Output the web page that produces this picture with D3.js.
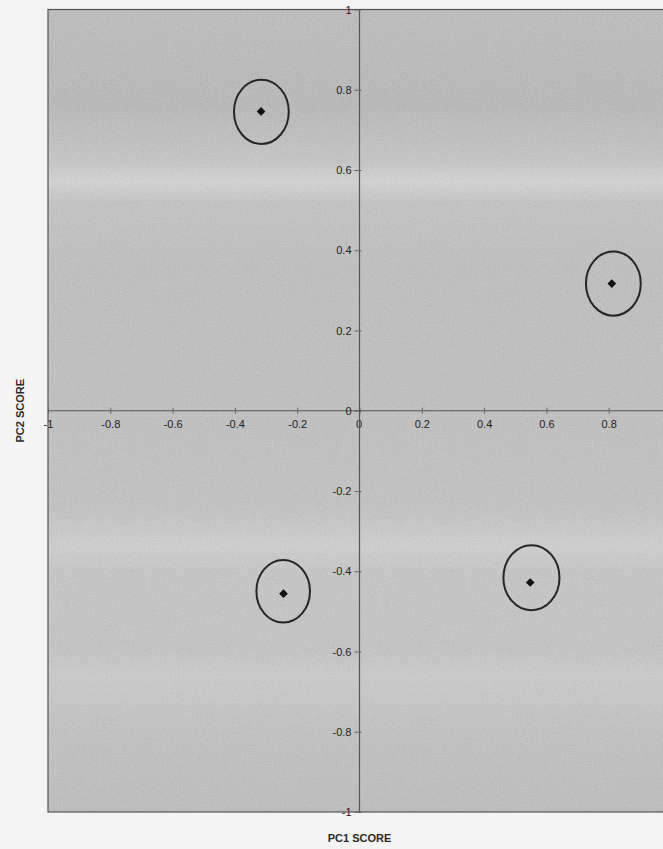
<!DOCTYPE html>
<html>
<head>
<meta charset="utf-8">
<script src="https://cdn.jsdelivr.net/npm/d3@7"></script>
<style>
  html, body { margin: 0; padding: 0; background: #f4f4f4; }
  svg { display: block; }
  text { font-family: "Liberation Sans", Arial, sans-serif; }
</style>
</head>
<body>
<div id="chart"></div>
<script>
(function() {
	var width = 663,
		height = 849;

	// PC scores
	var pc1 = [-0.316, 0.810, -0.244, 0.548];
	var pc2 = [0.746, 0.317, -0.456, -0.428];
	// centre of each drawn ellipse (a few are slightly off the point)
	var ellX = [-0.315, 0.815, -0.245, 0.552];
	var ellY = [0.745, 0.317, -0.450, -0.416];
	var ellRx = [0.088, 0.088, 0.086, 0.090];
	var ellRy = [0.080, 0.080, 0.078, 0.081];

	// the label for x = 1 falls outside the picture, so it is not listed
	var xTicks = [-1, -0.8, -0.6, -0.4, -0.2, 0, 0.2, 0.4, 0.6, 0.8];
	var yTicks = [-1, -0.8, -0.6, -0.4, -0.2, 0, 0.2, 0.4, 0.6, 0.8, 1];

	var points = pc1.map(function(d, i) {
		return { x: d, y: pc2[i], ex: ellX[i], ey: ellY[i], rx: ellRx[i], ry: ellRy[i] };
	});

	var plot = { left: 48, right: 671, top: 9.5, bottom: 812 };

	var x = d3.scaleLinear().domain([-1, 1]).range([plot.left, plot.right]);
	var y = d3.scaleLinear().domain([-1, 1]).range([plot.bottom, plot.top]);

	var svg = d3.select("#chart")
		.append("svg")
		.attr("width", width)
		.attr("height", height);

	var defs = svg.append("defs");

	// scanned-paper look: banded grey plus grain
	var grad = defs.append("linearGradient")
		.attr("id", "bands")
		.attr("x1", 0).attr("y1", 0).attr("x2", 0).attr("y2", 1);
	[[0, "#bdbdbd"], [0.12, "#b8b8b8"], [0.19, "#c8c8c8"], [0.215, "#d8d8d8"], [0.24, "#c6c6c6"],
	 [0.32, "#c0c0c0"], [0.5, "#c1c1c1"], [0.62, "#c4c4c4"], [0.67, "#d2d2d2"], [0.7, "#c8c8c8"],
	 [0.8, "#c6c6c6"], [0.83, "#cecece"], [0.9, "#c3c3c3"], [1, "#bebebe"]]
		.forEach(function(s) {
			grad.append("stop").attr("offset", s[0]).attr("stop-color", s[1]);
		});

	var grain = defs.append("filter").attr("id", "grain")
		.attr("x", 0).attr("y", 0).attr("width", 1).attr("height", 1);
	grain.append("feTurbulence")
		.attr("type", "fractalNoise")
		.attr("baseFrequency", 0.8)
		.attr("numOctaves", 2)
		.attr("seed", 3)
		.attr("result", "noise");
	grain.append("feColorMatrix")
		.attr("in", "noise")
		.attr("type", "matrix")
		.attr("values", "0.33 0.33 0.33 0 0  0.33 0.33 0.33 0 0  0.33 0.33 0.33 0 0  0 0 0 0 0.25")
		.attr("result", "grey");
	grain.append("feComposite")
		.attr("in", "grey").attr("in2", "SourceGraphic").attr("operator", "atop");

	var g = svg.append("g");

	// plot background
	g.append("rect")
		.attr("x", plot.left).attr("y", plot.top)
		.attr("width", plot.right - plot.left)
		.attr("height", plot.bottom - plot.top)
		.attr("fill", "url(#bands)")
		.attr("filter", "url(#grain)");

	// frame
	g.append("rect")
		.attr("x", plot.left).attr("y", plot.top)
		.attr("width", plot.right - plot.left)
		.attr("height", plot.bottom - plot.top)
		.attr("fill", "none")
		.attr("stroke", "#555")
		.style("stroke-width", "1.2px");

	var fmt = function(d) { return String(d); };

	// horizontal axis through y = 0
	var xAxis = g.append("g")
		.attr("transform", "translate(0," + y(0) + ")")
		.call(d3.axisBottom(x).tickValues(xTicks).tickFormat(fmt).tickSize(3).tickPadding(0));
	xAxis.select(".domain").attr("stroke", "#555").style("stroke-width", "1.2px");
	xAxis.selectAll(".tick line").attr("y1", -3).attr("y2", 3).attr("stroke", "#666");
	xAxis.selectAll(".tick text")
		.attr("y", 17).attr("dy", 0)
		.attr("fill", "#222")
		.style("font-size", "11px");
	xAxis.selectAll(".tick text").filter(function(d) { return d === 0; }).attr("x", -1);

	// vertical axis through x = 0
	var yAxis = g.append("g")
		.attr("transform", "translate(" + x(0) + ",0)")
		.call(d3.axisLeft(y).tickValues(yTicks).tickFormat(fmt).tickSize(4).tickPadding(7));
	yAxis.select(".domain").attr("stroke", "#555").style("stroke-width", "1.2px");
	yAxis.selectAll(".tick line").attr("x1", -5).attr("x2", 2).attr("stroke", "#666");
	yAxis.selectAll(".tick text")
		.attr("x", -8)
		.attr("fill", "#222")
		.style("font-size", "11px");
	// drop the end caps of the axis paths, keep the straight line
	xAxis.select(".domain").attr("d", "M" + plot.left + ",0H" + plot.right);
	yAxis.select(".domain").attr("d", "M0," + plot.bottom + "V" + plot.top);

	// confidence ellipses
	g.selectAll(".ell")
		.data(points)
		.enter().append("ellipse")
		.attr("class", "ell")
		.attr("cx", function(d) { return x(d.ex); })
		.attr("cy", function(d) { return y(d.ey); })
		.attr("rx", function(d) { return x(d.rx) - x(0); })
		.attr("ry", function(d) { return y(0) - y(d.ry); })
		.attr("fill", "none")
		.attr("stroke", "#262626")
		.style("stroke-width", "2px");

	// score points (small square diamonds)
	g.selectAll(".pt")
		.data(points)
		.enter().append("path")
		.attr("class", "pt")
		.attr("d", d3.symbol().type(d3.symbolSquare).size(38))
		.attr("transform", function(d) { return "translate(" + x(d.x) + "," + y(d.y) + ") rotate(45)"; })
		.attr("fill", "#111");

	// axis titles
	svg.append("text")
		.attr("x", x(0))
		.attr("y", 842)
		.attr("text-anchor", "middle")
		.attr("fill", "#2a2a2a")
		.style("font-size", "11px")
		.style("font-weight", "bold")
		.text("PC1 SCORE");

	svg.append("text")
		.attr("transform", "translate(24," + y(0) + ") rotate(-90)")
		.attr("text-anchor", "middle")
		.attr("fill", "#2a2a2a")
		.style("font-size", "11px")
		.style("font-weight", "bold")
		.text("PC2 SCORE");
})();
</script>
</body>
</html>
